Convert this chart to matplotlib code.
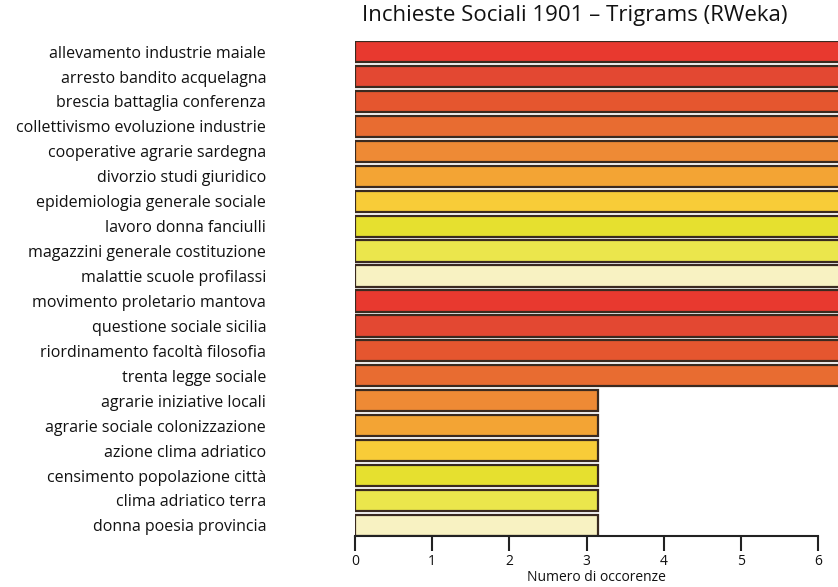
import numpy as np
import matplotlib.pyplot as plt

plt.rcParams['font.family'] = ['Open Sans', 'DejaVu Sans']

trigrams = ['allevamento industrie maiale', 'arresto bandito acquelagna',
            'brescia battaglia conferenza', 'collettivismo evoluzione industrie',
            'cooperative agrarie sardegna', 'divorzio studi giuridico',
            'epidemiologia generale sociale', 'lavoro donna fanciulli',
            'magazzini generale costituzione', 'malattie scuole profilassi',
            'movimento proletario mantova', 'questione sociale sicilia',
            'riordinamento facoltà filosofia', 'trenta legge sociale',
            'agrarie iniziative locali', 'agrarie sociale colonizzazione',
            'azione clima adriatico', 'censimento popolazione città',
            'clima adriatico terra', 'donna poesia provincia']
occorrenze = [6.3] * 14 + [3.15] * 6
palette = ['#e8392f', '#e34832', '#e5562f', '#e86c31', '#ee8a35',
           '#f3a434', '#f8cc38', '#e6e02f', '#ebe64c', '#f8f2c2']
colori = [palette[i] for i in range(10)] + [palette[i] for i in range(4)] + [palette[i] for i in range(4, 10)]
xticks = [0, 1, 2, 3, 4, 5, 6]

fig = plt.figure(figsize=(8.38, 5.87), dpi=100)
ax = fig.add_axes([355/838, 1 - 536/587, 1 - 355/838, (536 - 41)/587])

y = np.arange(len(trigrams))
ax.barh(y, occorrenze, height=0.85, color=colori, edgecolor='#3a2a20', linewidth=1.6)
ax.set_ylim(len(trigrams) - 1 + 0.425, -0.425)
ax.set_xlim(0, (838 - 355) / ((818 - 355) / 6))

ax.set_yticks(y)
ax.set_yticklabels(trigrams, fontsize=11.5, color='#111111')
ax.tick_params(axis='y', length=0, pad=64)
ax.set_xticks(xticks)
ax.set_xticklabels([str(t) for t in xticks], fontsize=10, color='#111111')
ax.tick_params(axis='x', length=11, width=1.5, color='#222222', pad=2)

for s in ['top', 'right', 'left']:
    ax.spines[s].set_visible(False)
ax.spines['bottom'].set_bounds(0, 6)
ax.spines['bottom'].set_linewidth(1.5)
ax.spines['bottom'].set_color('#222222')

ax.set_xlabel('Numero di occorenze', fontsize=10, labelpad=1, color='#111111')
fig.text(575/838, 1 - 15/587, 'Inchieste Sociali 1901 – Trigrams (RWeka)', ha='center', va='center',
         fontsize=16, color='#111111')

fig.savefig('out.png', dpi=100)
